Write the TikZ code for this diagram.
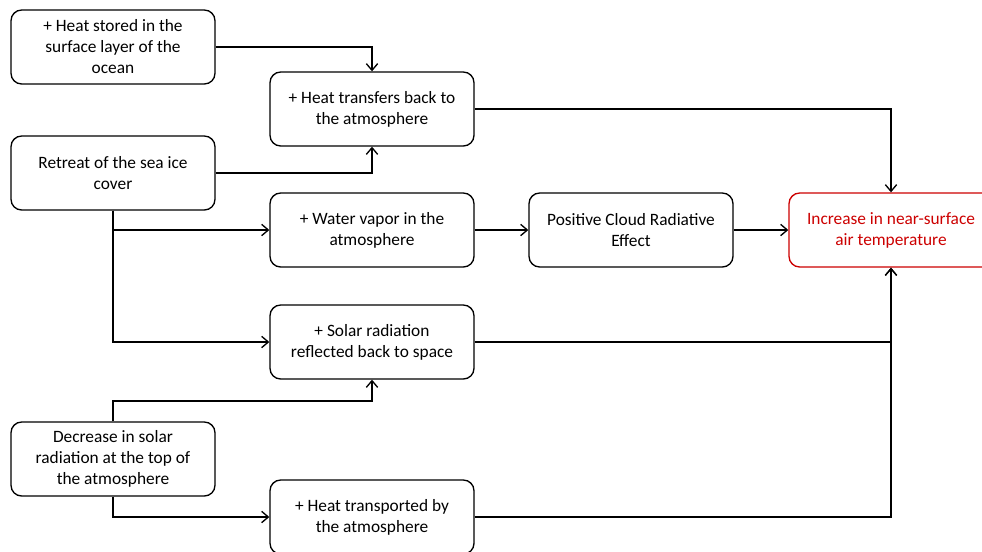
\documentclass[tikz,border=0pt]{standalone}
\usepackage{fontspec}
\setmainfont{Carlito}
\usetikzlibrary{shapes.geometric, arrows.meta}
\definecolor{hotred}{RGB}{204,0,0}
\tikzstyle{arrow} = [line width=1pt,-{Straight Barb[length=5pt,width=8.5pt]}]
\tikzstyle{process} = [rectangle, rounded corners=8pt, minimum width=153pt, minimum height=55.5pt, align=center, draw=black, line width=1pt, font=\fontsize{13}{15.75}\selectfont]
\tikzstyle{result} = [process, draw=hotred, text=hotred]

\begin{document}
\begin{tikzpicture}[x=0.75pt, y=-0.75pt, node distance=194.25pt]

\useasboundingbox (0,0) rectangle (982,551);
\clip (0,0) rectangle (982,551);

\node (stored) [process] at (113,47) {+ Heat stored in the\\surface layer of the\\ocean};
\node (transfers) [process, right of=stored, yshift=-46.5pt] {+ Heat transfers back to\\the atmosphere};
\node (retreat) [process, below of=stored, yshift=99.75pt] {Retreat of the sea ice\\cover};

\node (vapor) [process, right of=retreat, yshift=-42.75pt] {+ Water vapor in the\\atmosphere};
\node (cloud) [process, right of=vapor] {Positive Cloud Radiative\\Effect};
\node (increase) [result, right of=cloud, xshift=0.75pt] {Increase in near-surface\\air temperature};

\node (solar) [process, below of=vapor, yshift=110.25pt] {+ Solar radiation\\reflected back to space};
\node (decrease) [process, below of=retreat, yshift=-20.25pt] {Decrease in solar\\radiation at the top of\\the atmosphere};
\node (transported) [process, below of=solar, yshift=63pt] {+ Heat transported by\\the atmosphere};

\node[coordinate] (a_decrease) [above of=decrease, node distance=43.5pt] {};

\draw [arrow] (stored) -| (transfers);
\draw [arrow] (retreat) -| (transfers);
\draw [arrow] (retreat) |- (vapor);
\draw [arrow] (retreat) |- (solar);
\draw [arrow] (vapor) -- (cloud);
\draw [arrow] (cloud) -- (increase);

\draw [arrow] (transfers) -| (increase);
\draw [arrow] (solar) -| (increase);
\draw [arrow] (transported) -| (increase);

\draw [arrow] (decrease) -- (a_decrease) -| (solar);
\draw [arrow] (decrease) |- (transported);

\end{tikzpicture}
\end{document}
